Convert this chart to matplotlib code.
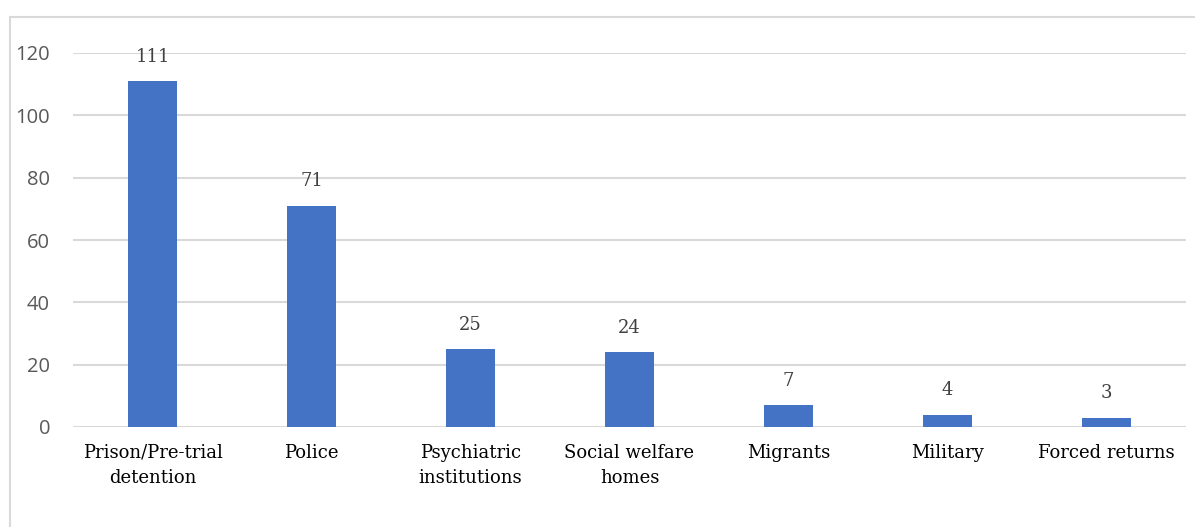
import matplotlib
matplotlib.use('Agg')
import matplotlib.pyplot as plt
from matplotlib.patches import Rectangle

categories = ['Prison/Pre-trial\ndetention', 'Police', 'Psychiatric\ninstitutions',
              'Social welfare\nhomes', 'Migrants', 'Military', 'Forced returns']
counts = [111, 71, 25, 24, 7, 4, 3]
y_ticks = [0, 20, 40, 60, 80, 100, 120]

bar_color = '#4472C4'
grid_color = '#D9D9D9'
text_gray = '#595959'

fig = plt.figure(figsize=(11.95, 5.27), dpi=100)
ax = fig.add_axes([73 / 1195, 100 / 527, 1113 / 1195, 374 / 527])

x = range(len(categories))
ax.bar(x, counts, width=0.31, color=bar_color, zorder=3)

for i, v in enumerate(counts):
    ax.annotate(str(v), (i, v), xytext=(0, 11), textcoords='offset points',
                ha='center', va='bottom', fontsize=13,
                family='DejaVu Serif', color='#404040')

ax.set_xlim(-0.5, len(categories) - 0.5)
ax.set_ylim(0, 120)
ax.set_yticks(y_ticks)
ax.set_yticklabels([str(t) for t in y_ticks], fontsize=14.5, family='Open Sans', color=text_gray)
ax.set_xticks(list(x))
ax.set_xticklabels(categories, fontsize=13, family='DejaVu Serif', color='black',
                   linespacing=1.55)
ax.tick_params(axis='both', length=0)
ax.tick_params(axis='x', pad=12)
ax.tick_params(axis='y', pad=16.5)
ax.grid(axis='y', color=grid_color, linewidth=1.5, zorder=0)
for s in ax.spines.values():
    s.set_visible(False)

# chart frame
fig.patches.append(Rectangle((10 / 1195, -0.1), 1.2, (527 - 17) / 527 + 0.1,
                             transform=fig.transFigure, fill=False,
                             edgecolor=grid_color, linewidth=1.5))

fig.savefig('out.png', dpi=100)
